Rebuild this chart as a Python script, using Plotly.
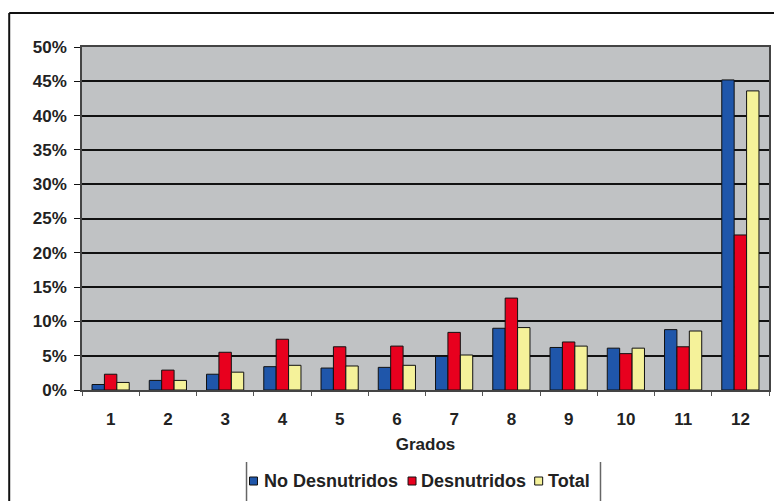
import plotly.graph_objects as go

grados = ["1", "2", "3", "4", "5", "6", "7", "8", "9", "10", "11", "12"]
no_desnutridos = [0.008, 0.014, 0.023, 0.034, 0.032, 0.033, 0.049, 0.090, 0.062, 0.061, 0.088, 0.452]
desnutridos = [0.023, 0.029, 0.055, 0.074, 0.063, 0.064, 0.084, 0.134, 0.070, 0.053, 0.063, 0.226]
total = [0.011, 0.014, 0.026, 0.036, 0.035, 0.036, 0.051, 0.091, 0.064, 0.061, 0.086, 0.436]

series_names = ["No Desnutridos", "Desnutridos", "Total"]
series_colors = ["#1f56aa", "#e8001e", "#f5f29a"]

FAM = "Arial, Liberation Sans, sans-serif"
TXT = "#222222"

# plot-area geometry in pixels, used to place the frame and the legend
W, H = 774, 501
L, R, T, B = 82, 3, 47, 111
PW, PH = W - L - R, H - T - B


def px_x(px):
    return (px - L) / PW


def px_y(py):
    return (H - B - py) / PH


fig = go.Figure()
for name, vals, col in zip(series_names, [no_desnutridos, desnutridos, total], series_colors):
    fig.add_trace(go.Bar(
        x=grados, y=vals, name=name,
        marker=dict(color=col, line=dict(color="#111111", width=1)),
        showlegend=False,
    ))

fig.update_layout(
    width=W, height=H,
    margin=dict(l=L, r=R, t=T, b=B),
    paper_bgcolor="white",
    plot_bgcolor="#c0c2c4",
    barmode="group",
    bargap=0.35,
    bargroupgap=0,
    xaxis=dict(
        type="category",
        tickson="boundaries",
        ticks="outside", ticklen=4, tickcolor="#555555",
        ticklabelstandoff=13,
        showgrid=False,
        showline=True, linecolor="#444444", linewidth=1.5, mirror=True,
        tickfont=dict(family=FAM, size=17, color=TXT, weight="bold"),
        title=dict(text="Grados", font=dict(family=FAM, size=17, color=TXT, weight="bold"),
                   standoff=10),
    ),
    yaxis=dict(
        range=[0, 0.5], dtick=0.05, tickformat=".0%",
        showgrid=True, gridcolor="#111111", gridwidth=2,
        ticks="outside", ticklen=6, tickcolor="#111111",
        ticklabelstandoff=4,
        showline=True, linecolor="#444444", linewidth=1.5, mirror=True,
        zeroline=False,
        tickfont=dict(family=FAM, size=17, color=TXT, weight="bold"),
    ),
)

# outer chart frame (left and top edges)
fig.add_shape(type="line", xref="paper", yref="paper",
              x0=px_x(9), x1=px_x(9), y0=px_y(13), y1=px_y(510),
              line=dict(color="#111111", width=2))
fig.add_shape(type="line", xref="paper", yref="paper",
              x0=px_x(9), x1=px_x(780), y0=px_y(13), y1=px_y(13),
              line=dict(color="#111111", width=2))

# legend: separators, colour keys and labels
for sx in (247, 602):
    fig.add_shape(type="line", xref="paper", yref="paper",
                  x0=px_x(sx), x1=px_x(sx), y0=px_y(462), y1=px_y(501),
                  line=dict(color="#666666", width=1.5))

legend_key_x = [250, 409, 536]
legend_text_x = [263, 420, 547]
for kx, tx, name, col in zip(legend_key_x, legend_text_x, series_names, series_colors):
    fig.add_shape(type="rect", xref="paper", yref="paper",
                  x0=px_x(kx), x1=px_x(kx + 8), y0=px_y(485), y1=px_y(477),
                  fillcolor=col, line=dict(color="#111111", width=1))
    fig.add_annotation(xref="paper", yref="paper", x=px_x(tx), y=px_y(481),
                       xanchor="left", yanchor="middle", showarrow=False,
                       text=name,
                       font=dict(family=FAM, size=18, color=TXT, weight="bold"))

fig.write_html("out.html")
